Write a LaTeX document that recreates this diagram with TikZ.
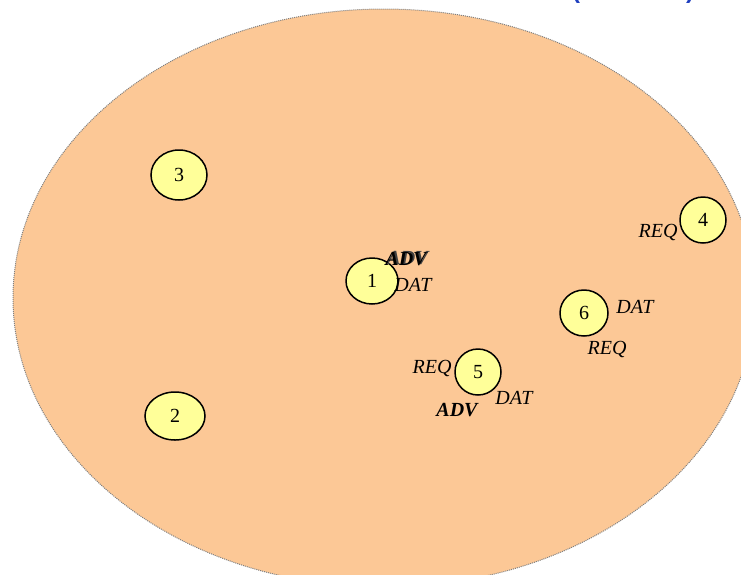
\documentclass[tikz,border=0pt]{standalone}
\usepackage{fontspec}
\setmainfont{Liberation Serif}
\newfontfamily\bluesans{Liberation Sans}
\definecolor{peach}{HTML}{FCC896}
\definecolor{paleyellow}{HTML}{FFFF99}
\definecolor{titleblue}{HTML}{1F3FBF}
\tikzset{
  station/.style={ellipse, draw=black, line width=1.5pt, fill=paleyellow, inner sep=0pt, font=\fontsize{20}{22}\selectfont},
  msg/.style={font=\fontsize{20}{22}\selectfont\itshape, inner sep=0pt},
  adv/.style={font=\fontsize{20}{22}\selectfont\bfseries\itshape, inner sep=0pt},
}
\usetikzlibrary{shapes.geometric}
\begin{document}
\begin{tikzpicture}[x=1pt,y=-1pt]
\useasboundingbox (0,0) rectangle (741,574);
\clip (0,0) rectangle (741,574);
% area
\node[ellipse, draw=gray, densely dotted, line width=1pt, fill=peach, minimum width=742pt, minimum height=578pt, inner sep=0pt] (area) at (384,298) {};
% cut-off title brackets
\node[anchor=south, inner sep=0pt, text=titleblue, font=\bluesans\bfseries\fontsize{24}{26}\selectfont] (lp) at (576,4) {(};
\node[anchor=south, inner sep=0pt, text=titleblue, font=\bluesans\bfseries\fontsize{24}{26}\selectfont] (rp) at (690,4) {)};
% stations
\node[station, minimum width=56pt, minimum height=50pt] (n3) at (179,175) {3};
\node[station, minimum width=60pt, minimum height=48pt] (n2) at (175,416) {2};
\node[station, minimum width=52pt, minimum height=46pt] (n1) at (372,281) {1};
\node[station, minimum width=46pt, minimum height=46pt] (n5) at (478,372) {5};
\node[station, minimum width=48pt, minimum height=46pt] (n6) at (584,313) {6};
\node[station, minimum width=46pt, minimum height=46pt] (n4) at (703,220) {4};
% labels node 1
\node[adv, text=black!75] (a1s) at (408,258) {ADV};
\node[adv] (a1) at (406,259) {ADV};
\node[msg] (d1) at (413,285) {DAT};
% labels node 5
\node[msg] (r5) at (432,368) {REQ};
\node[msg] (d5) at (514,398) {DAT};
\node[adv] (a5) at (457,410) {ADV};
% labels node 6
\node[msg] (d6) at (635,307) {DAT};
\node[msg] (r6) at (607,349) {REQ};
% labels node 4
\node[msg] (r4) at (658,232) {REQ};
\end{tikzpicture}
\end{document}
